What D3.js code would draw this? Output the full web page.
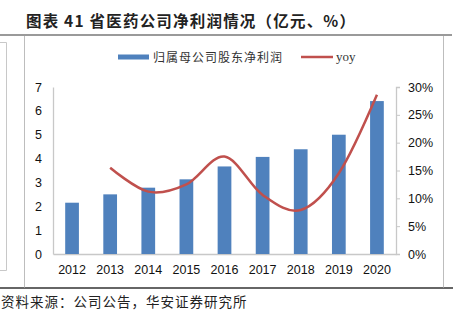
<!DOCTYPE html>
<html>
<head>
<meta charset="utf-8">
<script src="https://cdn.jsdelivr.net/npm/d3@7"></script>
<style>
  body { margin: 0; background: #fff; }
  svg { display: block; }
  text { font-family: "Liberation Sans", Arial, sans-serif; }
  .cjk { font-family: "Noto Sans CJK SC", sans-serif; }
  .serif { font-family: "Liberation Serif", serif; }
</style>
</head>
<body>
<svg width="459" height="325"></svg>
<script>
var years = ["2012", "2013", "2014", "2015", "2016", "2017", "2018", "2019", "2020"];
var profit = [2.15, 2.5, 2.78, 3.13, 3.67, 4.07, 4.39, 5.0, 6.41];   // 亿元
var yoy = [null, 15.5, 11.2, 12.5, 17.5, 10.6, 7.9, 14.5, 28.6];     // %
var leftTicks = [0, 1, 2, 3, 4, 5, 6, 7];
var rightTicks = [0, 5, 10, 15, 20, 25, 30];

var svg = d3.select("svg");

var x0 = 53, x1 = 396, yTop = 87, yBot = 254;

var x = d3.scaleBand().domain(years).range([x0, x1]).paddingInner(0.64).paddingOuter(0.32);
var yL = d3.scaleLinear().domain([0, 7]).range([yBot, yTop]);
var yR = d3.scaleLinear().domain([0, 30]).range([yBot, yTop]);

// title and rules
svg.append("text").attr("class", "cjk")
    .attr("x", 26).attr("y", 27)
    .attr("font-size", 15.5).attr("font-weight", "bold").attr("fill", "#222")
    .attr("letter-spacing", 1.2)
    .text("图表 41 省医药公司净利润情况（亿元、%）");
svg.append("line").attr("x1", 0).attr("x2", 452).attr("y1", 35).attr("y2", 35)
    .attr("stroke", "#9a9a9a").attr("stroke-width", 2);
svg.append("line").attr("x1", 0).attr("x2", 453).attr("y1", 288).attr("y2", 288)
    .attr("stroke", "#333").attr("stroke-width", 1.5);

// chart frame
svg.append("path").attr("d", "M24.5,36V287.5M443.5,36V287.5")
    .attr("stroke", "#bdbdbd").attr("fill", "none");
// edge of neighbouring frame
svg.append("path").attr("d", "M0,42.5H6.5V270.5H0")
    .attr("stroke", "#c8c8c8").attr("fill", "none");

// legend
svg.append("rect").attr("x", 118).attr("y", 54.5).attr("width", 31).attr("height", 5).attr("fill", "#4F81BD");
svg.append("text").attr("class", "cjk").attr("x", 153).attr("y", 61.5)
    .attr("font-size", 12).attr("letter-spacing", 1).attr("fill", "#333")
    .text("归属母公司股东净利润");
svg.append("line").attr("x1", 301).attr("x2", 333).attr("y1", 57).attr("y2", 57)
    .attr("stroke", "#C0504D").attr("stroke-width", 2.5);
svg.append("text").attr("class", "serif").attr("x", 336).attr("y", 61)
    .attr("font-size", 13).attr("fill", "#333")
    .text("yoy");

// axes
var axisL = svg.append("g").attr("transform", "translate(" + x0 + ",0)")
    .call(d3.axisLeft(yL).tickValues(leftTicks).tickSize(0).tickPadding(11)
        .tickFormat(d3.format("d")));
var axisR = svg.append("g").attr("transform", "translate(" + x1 + ",0)")
    .call(d3.axisRight(yR).tickValues(rightTicks).tickSize(4).tickPadding(8)
        .tickFormat(function(d) { return d + "%"; }));
var axisB = svg.append("g").attr("transform", "translate(0," + yBot + ")")
    .call(d3.axisBottom(x).tickSize(0).tickPadding(11));

[axisL, axisR, axisB].forEach(function(g) {
    g.select(".domain").attr("stroke", "#c8c8c8").attr("stroke-width", 1.3);
    g.selectAll(".tick line").attr("stroke", "#c8c8c8");
    g.selectAll("text").attr("font-size", 12.5).attr("fill", "#111")
        .attr("font-family", "Liberation Sans, Arial, sans-serif");
});

// bars
svg.append("g").selectAll("rect").data(profit).join("rect")
    .attr("x", function(d, i) { return x(years[i]); })
    .attr("width", x.bandwidth())
    .attr("y", function(d) { return yL(d); })
    .attr("height", function(d) { return yBot - yL(d); })
    .attr("fill", "#4F81BD");

// yoy smoothed line
var pts = yoy.map(function(d, i) { return [x(years[i]) + x.bandwidth() / 2, d]; })
    .filter(function(p) { return p[1] != null; });
svg.append("path")
    .datum(pts)
    .attr("fill", "none").attr("stroke", "#C0504D").attr("stroke-width", 2.5)
    .attr("d", d3.line().x(function(p) { return p[0]; }).y(function(p) { return yR(p[1]); })
        .curve(d3.curveCardinal.tension(0)));

// source
svg.append("text").attr("class", "cjk").attr("x", 1).attr("y", 307)
    .attr("font-size", 13.5).attr("letter-spacing", 1).attr("fill", "#222")
    .text("资料来源：公司公告，华安证券研究所");
</script>
</body>
</html>
